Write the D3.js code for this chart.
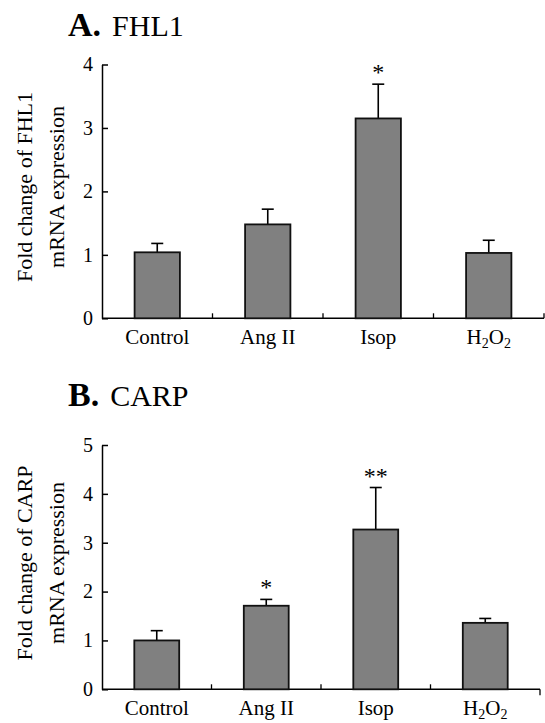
<!DOCTYPE html>
<html>
<head>
<meta charset="utf-8">
<script src="https://cdn.jsdelivr.net/npm/d3@7"></script>
<style>
  body { margin: 0; background: #fff; }
  text { font-family: 'Liberation Serif', 'Times New Roman', serif; fill: #000; }
</style>
</head>
<body>
<svg width="545" height="723"></svg>
<script>
const categories = ['Control', 'Ang II', 'Isop', 'H2O2']

// Panel A: FHL1
const fhl1Means = [1.04, 1.48, 3.15, 1.03]
const fhl1Errors = [0.14, 0.24, 0.54, 0.2]
const fhl1Stars = ['', '', '*', '']
const fhl1Ticks = [0, 1, 2, 3, 4]

// Panel B: CARP
const carpMeans = [1.0, 1.71, 3.27, 1.36]
const carpErrors = [0.2, 0.13, 0.86, 0.09]
const carpStars = ['', '*', '**', '']
const carpTicks = [0, 1, 2, 3, 4, 5]

let svg = d3.select('svg')

const drawPanel = opts => {
  const { letter, gene, titleY, means, errors, stars, ticks, top, bottom, left, right, endTickDown, titleCenter } = opts
  const g = svg.append('g')

  // title
  const title = g.append('text').attr('x', 68).attr('y', titleY)
  title.append('tspan').attr('font-weight', 'bold').attr('font-size', 34).text(letter + '.')
  title.append('tspan').attr('font-size', 30).attr('dx', 11).text(gene)

  const y = d3.scaleLinear().domain([0, d3.max(ticks)]).range([bottom, top])
  const xb = d3.scaleBand().domain(categories).range([left, right])
  const x = d3.scaleBand().domain(categories).range([left, right]).paddingInner(0.59).paddingOuter(0.295)

  // y axis, ticks pointing inward
  const yAxis = d3.axisLeft(y)
    .tickValues(ticks)
    .tickFormat(d3.format('d'))
    .tickSizeInner(-6)
    .tickSizeOuter(0)
    .tickPadding(9)
  const ya = g.append('g').attr('transform', `translate(${left},0)`).call(yAxis)
  ya.selectAll('path, line').attr('stroke', '#000').attr('stroke-width', 1.5)
  ya.selectAll('text').attr('font-size', 20)

  // x axis line and category separators
  g.append('line')
    .attr('x1', left).attr('x2', right)
    .attr('y1', y(0)).attr('y2', y(0))
    .attr('stroke', '#000').attr('stroke-width', 1.5)
  g.selectAll('.sep')
    .data(categories)
    .enter()
    .append('line')
    .attr('class', 'sep')
    .attr('x1', d => xb(d) + xb.bandwidth())
    .attr('x2', d => xb(d) + xb.bandwidth())
    .attr('y1', y(0))
    .attr('y2', (d, i) => (i === categories.length - 1 && endTickDown ? y(0) + 6 : y(0) - 5))
    .attr('stroke', '#000').attr('stroke-width', 1.3)

  // category labels
  const labels = g.selectAll('.cat')
    .data(categories)
    .enter()
    .append('text')
    .attr('class', 'cat')
    .attr('x', d => xb(d) + xb.bandwidth() / 2)
    .attr('y', y(0) + 26)
    .attr('text-anchor', 'middle')
    .attr('font-size', 21)
  labels.each(function (d) {
    const t = d3.select(this)
    if (d === 'H2O2') {
      t.append('tspan').text('H')
      t.append('tspan').attr('font-size', 14).attr('dy', 4).text('2')
      t.append('tspan').attr('dy', -4).text('O')
      t.append('tspan').attr('font-size', 14).attr('dy', 4).text('2')
    } else {
      t.text(d)
    }
  })

  const data = categories.map((c, i) => ({ c, m: means[i], e: errors[i], s: stars[i] }))

  // error bars
  const cx = d => x(d.c) + x.bandwidth() / 2
  g.selectAll('.err')
    .data(data)
    .enter()
    .append('line')
    .attr('x1', cx).attr('x2', cx)
    .attr('y1', d => y(d.m)).attr('y2', d => y(d.m + d.e))
    .attr('stroke', '#000').attr('stroke-width', 1.6)
  g.selectAll('.cap')
    .data(data)
    .enter()
    .append('line')
    .attr('x1', d => cx(d) - 6).attr('x2', d => cx(d) + 6)
    .attr('y1', d => y(d.m + d.e)).attr('y2', d => y(d.m + d.e))
    .attr('stroke', '#000').attr('stroke-width', 1.6)

  // bars
  g.selectAll('.bar')
    .data(data)
    .enter()
    .append('rect')
    .attr('x', d => x(d.c))
    .attr('y', d => y(d.m))
    .attr('width', x.bandwidth())
    .attr('height', d => y(0) - y(d.m))
    .attr('fill', '#808080')
    .attr('stroke', '#111')
    .attr('stroke-width', 1.8)

  // significance stars
  g.selectAll('.star')
    .data(data.filter(d => d.s))
    .enter()
    .append('text')
    .attr('x', cx)
    .attr('y', d => y(d.m + d.e) - 4)
    .attr('text-anchor', 'middle')
    .attr('font-size', 24)
    .text(d => d.s)

  // y axis title, two lines
  const ty = g.append('text')
    .attr('transform', `translate(0, ${titleCenter}) rotate(-90)`)
    .attr('text-anchor', 'middle')
    .attr('font-size', 22)
  ty.append('tspan').attr('x', 0).attr('y', 32).text(`Fold change of ${gene}`)
  ty.append('tspan').attr('x', 0).attr('y', 64).text('mRNA expression')
}

drawPanel({
  letter: 'A', gene: 'FHL1', titleY: 36,
  means: fhl1Means, errors: fhl1Errors, stars: fhl1Stars, ticks: fhl1Ticks,
  top: 64.5, bottom: 318.3, left: 102, right: 544, endTickDown: false, titleCenter: 187
})

drawPanel({
  letter: 'B', gene: 'CARP', titleY: 406,
  means: carpMeans, errors: carpErrors, stars: carpStars, ticks: carpTicks,
  top: 445, bottom: 689.3, left: 102, right: 540, endTickDown: true, titleCenter: 563
})
</script>
</body>
</html>
